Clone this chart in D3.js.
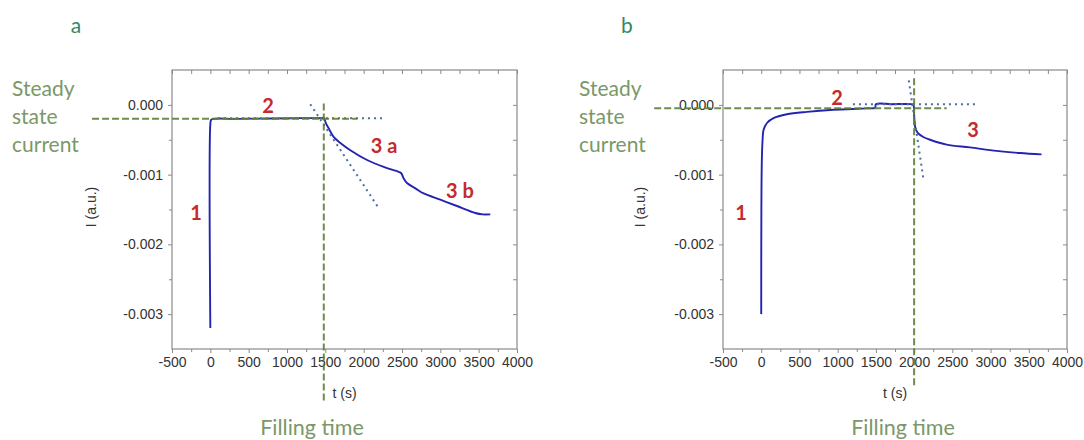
<!DOCTYPE html>
<html><head><meta charset="utf-8">
<script src="https://cdn.jsdelivr.net/npm/d3@7"></script>
<style>body{margin:0;background:#fff} svg{display:block}</style>
</head><body>
<svg id="c" width="1084" height="440"></svg>
<script>
// ---- tick labels ----
const xTicks = [-500, 0, 500, 1000, 1500, 2000, 2500, 3000, 3500, 4000];
const xMinorTicks = [-250, 250, 750, 1250, 1750, 2250, 2750, 3250, 3750];
const yTicks = [0, -0.001, -0.002, -0.003];
const yMinorTicks = [-0.0005, -0.0015, -0.0025];

// ---- panel a ----
const curveA_t = [0, 0, 10, 40, 300, 800, 1200, 1450, 1480, 1510, 1550, 1608, 1700, 1826, 2044, 2261, 2456, 2490, 2520, 2565, 2680, 2783, 3000, 3217, 3456, 3550, 3652];
const curveA_i = [-0.0032, -0.00028, -0.000215, -0.0002, -0.0002, -0.000195, -0.00019, -0.00019, -0.00019, -0.00027, -0.00035, -0.00046, -0.00055, -0.00065, -0.00079, -0.00089, -0.00096, -0.00098, -0.00105, -0.00112, -0.0012, -0.00127, -0.00136, -0.00145, -0.00155, -0.00157, -0.00157];
const steadyA = {t: [-1543, 1915], i: [-0.0002, -0.0002]};
const fillA = {t: [1480, 1480], i: [0.00002, -0.00425]};
const tangentA1 = {t: [100, 2283], i: [-0.00019, -0.00019]};
const tangentA2 = {t: [1304, 2196], i: [0.00001, -0.00148]};

// ---- panel b ----
const curveB_t = [0, 2, 8, 18, 30, 75, 161, 335, 597, 945, 1380, 1490, 1500, 1700, 1960, 1990, 2000, 2012, 2030, 2055, 2120, 2209, 2426, 2731, 3079, 3384, 3667];
const curveB_i = [-0.0030, -0.0015, -0.0008, -0.0005, -0.00036, -0.00026, -0.00019, -0.000135, -0.0001, -0.00007, -0.00005, -0.00004, 0.00001, 0.00001, 0.00001, 0.0, -0.00015, -0.00031, -0.00037, -0.00041, -0.00046, -0.0005, -0.00057, -0.00061, -0.00066, -0.00069, -0.00071];
const steadyB = {t: [-1400, 2426], i: [-0.00005, -0.00005]};
const fillB = {t: [2000, 2000], i: [0.00038, -0.00406]};
const tangentB1 = {t: [1200, 2820], i: [0.00001, 0.00001]};
const tangentB2 = {t: [1930, 2120], i: [0.00035, -0.00105]};

const svg = d3.select("#c");
const BLUE = "#2424b0", DOT = "#4d6ea3", GREEN = "#5f7f3c", TXTGREEN = "#7a9868", RED = "#c42a2e", TEAL = "#2f8a6c";
const TICKFONT = "'Liberation Sans', Arial, sans-serif";
const CAL = "Lato, 'Open Sans', sans-serif";

function panel(o) {
  const x = d3.scaleLinear().domain([-500, 4000]).range([o.left, o.right]);
  const y = d3.scaleLinear().domain([-0.0035, 0.0005]).range([o.bottom, o.top]);
  const g = svg.append("g");
  const fmtY = d => d.toFixed(3);
  const fmtX = d => String(d);
  function styleAxis(sel) {
    sel.select(".domain").remove();
    sel.selectAll("line").attr("stroke", "#8a8a8a");
    sel.selectAll("text").attr("fill", "#333").style("font-family", TICKFONT).style("font-size", "14px");
  }
  // bottom
  g.append("g").attr("transform", `translate(0,${o.bottom})`)
    .call(d3.axisBottom(x).tickValues(xTicks).tickFormat(fmtX).tickSize(4).tickPadding(4)).call(styleAxis);
  g.append("g").attr("transform", `translate(0,${o.bottom})`)
    .call(d3.axisBottom(x).tickValues(xMinorTicks).tickFormat("").tickSize(3)).call(styleAxis);
  // top (inward)
  g.append("g").attr("transform", `translate(0,${o.top})`)
    .call(d3.axisTop(x).tickValues(xTicks.concat(xMinorTicks)).tickFormat("").tickSize(-4)).call(styleAxis);
  // left
  g.append("g").attr("transform", `translate(${o.left},0)`)
    .call(d3.axisLeft(y).tickValues(yTicks).tickFormat(fmtY).tickSize(4).tickPadding(5)).call(styleAxis);
  g.append("g").attr("transform", `translate(${o.left},0)`)
    .call(d3.axisLeft(y).tickValues(yMinorTicks).tickFormat("").tickSize(3)).call(styleAxis);
  // right (inward)
  g.append("g").attr("transform", `translate(${o.right},0)`)
    .call(d3.axisRight(y).tickValues(yTicks.concat(yMinorTicks)).tickFormat("").tickSize(-4)).call(styleAxis);
  // frame
  g.append("rect").attr("x", o.left).attr("y", o.top).attr("width", o.right - o.left).attr("height", o.bottom - o.top)
    .attr("fill", "none").attr("stroke", "#8a8a8a").attr("stroke-width", 1.2);

  const line = d3.line().x(d => x(d[0])).y(d => y(d[1]));
  const pts = (ts, is) => ts.map((t, k) => [t, is[k]]);

  // data curve
  g.append("path").attr("d", d3.line().x(d => x(d[0])).y(d => y(d[1])).curve(d3.curveCatmullRom.alpha(0.5))(pts(o.ct, o.ci)))
    .attr("fill", "none").attr("stroke", BLUE).attr("stroke-width", 1.9);
  // dotted tangents
  [o.tan1, o.tan2].forEach(tn => {
    g.append("path").attr("d", line(pts(tn.t, tn.i))).attr("fill", "none").attr("stroke", DOT)
      .attr("stroke-width", 2).attr("stroke-dasharray", "2,4");
  });
  // green dashed guides
  [o.steady, o.fill].forEach(tn => {
    g.append("path").attr("d", line(pts(tn.t, tn.i))).attr("fill", "none").attr("stroke", GREEN)
      .attr("stroke-width", 2).attr("stroke-dasharray", "7,3").attr("opacity", 0.9);
  });

  // axis titles
  g.append("text").attr("x", (o.left + o.right) / 2).attr("y", 398).attr("text-anchor", "middle")
    .style("font-family", TICKFONT).style("font-size", "14px").attr("fill", "#333").text("t (s)");
  g.append("text").attr("transform", `translate(${o.ylabX},207) rotate(-90)`).attr("text-anchor", "middle")
    .style("font-family", TICKFONT).style("font-size", "14px").attr("fill", "#333").text("I (a.u.)");

  // panel letter
  g.append("text").attr("x", o.letterX).attr("y", 33).attr("text-anchor", "middle")
    .style("font-family", CAL).style("font-size", "21px").attr("fill", TEAL).text(o.letter);
  // steady state current
  ["Steady", "state", "current"].forEach((w, k) => {
    g.append("text").attr("x", o.sscX).attr("y", 96 + k * 28).style("font-family", CAL).style("font-size", "21px")
      .attr("fill", TXTGREEN).text(w);
  });
  g.append("text").attr("x", o.fillX).attr("y", 435).attr("text-anchor", "middle").style("font-family", CAL)
    .style("font-size", "21.5px").attr("fill", TXTGREEN).text("Filling time");
  // red labels
  o.labels.forEach(l => {
    g.append("text").attr("x", l[1]).attr("y", l[2]).attr("text-anchor", "middle").attr("dominant-baseline", "central")
      .style("font-family", CAL).style("font-weight", "bold").style("font-size", "20px").attr("fill", RED).text(l[0]);
  });
}

panel({left: 172, right: 517, top: 70, bottom: 349, ct: curveA_t, ci: curveA_i,
  steady: steadyA, fill: fillA, tan1: tangentA1, tan2: tangentA2, ylabX: 96, letter: "a", letterX: 76,
  sscX: 12, fillX: 312,
  labels: [["1", 196, 212], ["2", 268, 105], ["3 a", 384, 145], ["3 b", 460, 190]]});
panel({left: 723, right: 1067, top: 70, bottom: 349, ct: curveB_t, ci: curveB_i,
  steady: steadyB, fill: fillB, tan1: tangentB1, tan2: tangentB2, ylabX: 645, letter: "b", letterX: 627,
  sscX: 579, fillX: 903,
  labels: [["1", 741, 212], ["2", 837, 97], ["3", 973, 129]]});
</script>
</body></html>
